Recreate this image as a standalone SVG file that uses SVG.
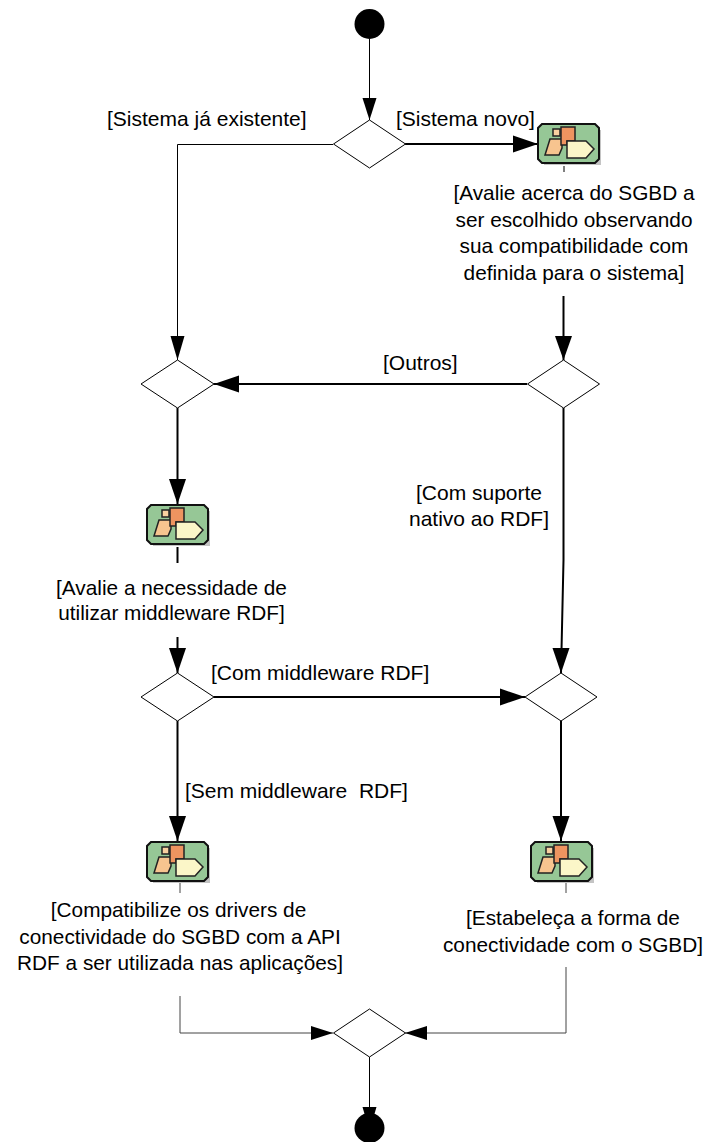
<svg xmlns="http://www.w3.org/2000/svg" width="709" height="1142" viewBox="0 0 709 1142">
<style>
text{font-family:"Liberation Sans",Arial,sans-serif;font-size:20.8px;fill:#000;white-space:pre}
.m{text-anchor:middle}
.s{font-size:21px}
.d{fill:#fff;stroke:#000;stroke-width:1}
.t{fill:none;stroke:#000;stroke-width:1}
.b{fill:none;stroke:#000;stroke-width:2}
.g{fill:none;stroke:#444;stroke-width:1}
</style>
<defs>
<g id="icon">
<path d="M3 3H60V38H3Z" fill="#c4c4c4" transform="translate(4,4)"/>
<path d="M5 1H58L62 5V36L58 40H5L1 36V5Z" fill="#96c796" stroke="#111" stroke-width="2"/>
<path d="M16 6H23V13H16Z" fill="#f9d0a0" stroke="#222" stroke-width="1.5"/>
<path d="M13 16H25V25L22 32H8Z" fill="#f7c48f" stroke="#222" stroke-width="1.5"/>
<path d="M24 4H38V18H30V22H24Z" fill="#ee9460" stroke="#222" stroke-width="1.5"/>
<path d="M30 18H49L57 26L49 35H30Z" fill="#fbf6c8" stroke="#222" stroke-width="1.5"/>
</g>
</defs>
<g id="connectors">
<path class="t" d="M369.5 39V120"/><path d="M369.5 120L362.5 98H376.5Z"/>
<path class="b" d="M405 144H538"/><path d="M538 144L513 135.5V152.5Z"/>
<path class="t" d="M333 144.5H177.5V360"/><path d="M177.5 360L170.5 336H184.5Z"/>
<path class="b" d="M563.5 296V360"/><path d="M563.5 360L555 336H572Z"/>
<path class="b" d="M527 384H214"/><path d="M214 384L239 375.5V392.5Z"/>
<path class="b" d="M177.5 408V504"/><path d="M177.5 504L169 479H186Z"/>
<path class="b" d="M177.5 547V563M177.5 637V673"/><path d="M177.5 673L169 648H186Z"/>
<path class="b" d="M214 697H525"/><path d="M525 697L500 688.5V705.5Z"/>
<path class="b" d="M563.5 408V560L561 673"/><path d="M561 673L552.5 648H569.5Z"/>
<path class="b" d="M177.5 721V841"/><path d="M177.5 841L169 816H186Z"/>
<path class="b" d="M561 721V841"/><path d="M561 841L552.5 816H569.5Z"/>
<path class="g" d="M180 882V893M180 996V1033H333"/><path d="M333 1033L311 1026V1040Z"/>
<path class="g" d="M566 882V893M566 967V1033H405"/><path d="M405 1033L427 1026V1040Z"/>
<path class="t" d="M369.5 1057V1112"/><path d="M362.5 1107H376.5L373 1119H366Z"/>
<path class="t" d="M564 166V172"/>
</g>
<g id="start"><circle cx="369.5" cy="24" r="15"/></g>
<g id="end"><circle cx="369.5" cy="1128" r="15"/></g>
<g id="decision1"><path class="d" d="M369.5 120L405.5 144L369.5 168L333.5 144Z"/></g>
<g id="decision2"><path class="d" d="M177.5 360L214 384L177.5 408L141 384Z"/></g>
<g id="decision3"><path class="d" d="M563.5 360L599.5 384L563.5 408L527.5 384Z"/></g>
<g id="decision4"><path class="d" d="M177.5 673L214 697L177.5 721L141 697Z"/></g>
<g id="decision5"><path class="d" d="M561 673L597 697L561 721L525 697Z"/></g>
<g id="decision6"><path class="d" d="M369.5 1009L405.5 1033L369.5 1057L333.5 1033Z"/></g>
<g id="activity1"><use href="#icon" x="537" y="123"/></g>
<g id="activity2"><use href="#icon" x="146" y="504"/></g>
<g id="activity3"><use href="#icon" x="146" y="841"/></g>
<g id="activity4"><use href="#icon" x="530" y="841"/></g>
<g id="labels">
<text class="s" x="107" y="125.5">[Sistema já existente]</text>
<text class="s" x="396" y="125.5">[Sistema novo]</text>
<text class="m" x="574" y="200">[Avalie acerca do SGBD a</text>
<text class="m" x="574" y="226.5">ser escolhido observando</text>
<text class="m" x="574" y="253">sua compatibilidade com</text>
<text class="m" x="574" y="279.5">definida para o sistema]</text>
<text class="s" x="383" y="370">[Outros]</text>
<text class="m s" x="479" y="500">[Com suporte</text>
<text class="m s" x="479" y="526">nativo ao RDF]</text>
<text class="m" x="171.5" y="595">[Avalie a necessidade de</text>
<text class="m" x="171.5" y="620">utilizar middleware RDF]</text>
<text class="s" x="211" y="680">[Com middleware RDF]</text>
<text class="s" x="185" y="798">[Sem middleware  RDF]</text>
<text class="m" x="178.5" y="917">[Compatibilize os drivers de</text>
<text class="m" x="180" y="943.5">conectividade do SGBD com a API</text>
<text class="m" x="180" y="970">RDF a ser utilizada nas aplicações]</text>
<text class="m" x="573" y="925">[Estabeleça a forma de</text>
<text class="m" x="573" y="951.5">conectividade com o SGBD]</text>
</g>
</svg>
